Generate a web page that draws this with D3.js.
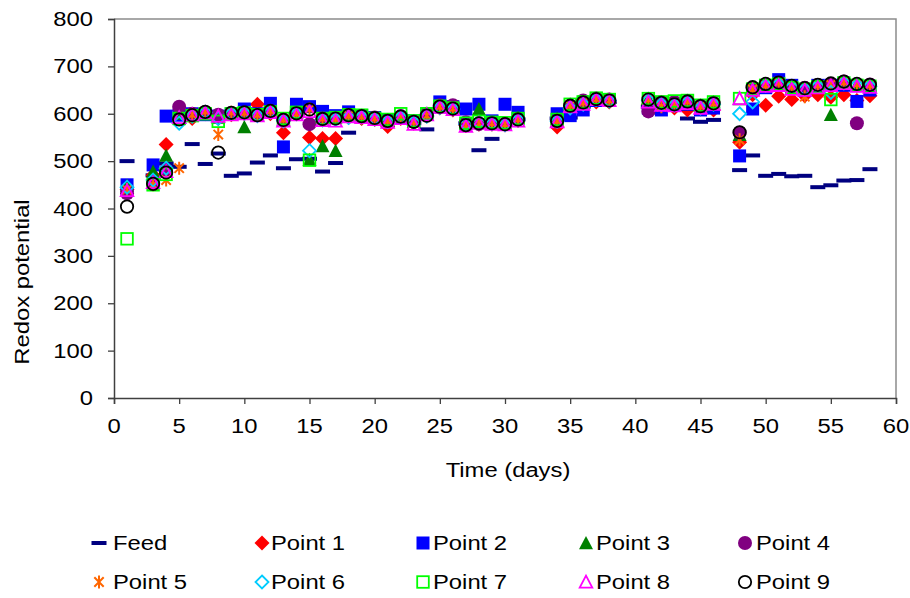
<!DOCTYPE html>
<html><head><meta charset="utf-8">
<script src="https://cdn.jsdelivr.net/npm/d3@7"></script>
<style>html,body{margin:0;padding:0;background:#fff;}svg{display:block;}</style>
</head><body>
<svg id="chart" width="910" height="598"></svg>
<script>
// ---------------- data ----------------
const days = [1,3,4,5,6,7,8,9,10,11,12,13,14,15,16,17,18,19,20,21,22,23,24,25,26,27,28,29,30,31,34,35,36,37,38,41,42,43,44,45,46,48,49,50,51,52,53,54,55,56,57,58];
const feed   = [500,470,495,488,536,494,516,469,474,497,512,485,504,505,478,496,560,585,585,583,585,580,567,605,605,580,523,547,582,588,590,592,615,625,625,615,612,610,590,583,587,481,512,469,473,468,469,445,449,459,460,483];
const point1 = [440,470,535,607,590,600,590,598,600,620,600,560,600,550,548,548,592,590,588,573,590,580,595,612,608,575,578,578,576,586,572,612,620,625,625,620,612,612,608,610,608,540,640,618,637,630,638,640,635,640,628,638];
const point2 = [450,492,595,597,600,598,595,600,610,600,622,530,620,615,605,596,604,596,592,587,590,585,600,625,615,610,620,585,620,603,600,596,608,628,628,612,608,618,620,608,612,511,610,655,672,660,650,660,660,660,626,650];
const point3 = [448,478,512,600,600,605,592,600,572,598,605,588,602,503,532,522,597,595,590,585,594,583,598,617,612,580,610,582,580,592,590,620,625,633,630,632,624,622,628,618,625,556,656,660,665,658,655,660,598,665,662,660];
const point4 = [432,455,482,615,600,603,598,601,602,598,606,588,601,578,590,591,598,596,592,586,595,584,600,618,618,582,578,581,579,588,586,617,628,632,630,605,625,625,627,617,623,560,655,662,665,658,655,660,663,668,580,662];
const point5 = [440,450,460,485,598,605,556,603,602,598,606,588,600,610,590,589,596,594,590,585,593,583,596,615,611,576,580,580,578,588,585,617,624,631,628,630,615,620,626,616,622,545,652,660,665,657,636,660,662,666,662,660];
const point6 = [445,460,485,580,595,603,590,600,601,596,604,585,600,522,587,588,592,593,589,583,592,582,595,613,610,578,582,579,577,587,584,612,620,630,627,628,620,618,624,612,620,600,625,660,662,656,652,658,645,665,660,658];
const point7 = [336,450,472,590,596,600,584,600,602,598,604,590,603,502,590,592,598,597,590,588,600,585,600,616,612,580,584,582,581,590,588,620,625,633,630,632,625,627,628,618,625,632,652,660,663,655,652,657,630,665,660,658];
const point8 = [438,455,478,592,598,602,595,598,600,596,603,585,598,605,586,585,594,592,588,582,590,578,598,614,609,574,580,578,577,585,583,615,620,630,628,625,618,617,622,612,620,632,650,658,660,652,650,655,660,664,658,656];
const point9 = [404,452,476,588,597,604,518,602,603,597,606,587,601,609,589,590,597,595,591,585,594,583,596,615,611,576,580,580,578,588,585,617,624,631,628,630,623,620,626,616,622,561,656,663,666,659,654,661,664,668,663,661];
const seriesNames = ["Feed","Point 1","Point 2","Point 3","Point 4","Point 5","Point 6","Point 7","Point 8","Point 9"];
const xTicks = [0,5,10,15,20,25,30,35,40,45,50,55,60];
const yTicks = [0,100,200,300,400,500,600,700,800];

// ---------------- setup ----------------
const svg = d3.select("#chart");
const M = {left:114, right:896, top:19, bottom:398};
const x = d3.scaleLinear().domain([0,60]).range([M.left, M.right]);
const y = d3.scaleLinear().domain([0,800]).range([M.bottom, M.top]);
const FONT = "'Liberation Sans', Arial, sans-serif";
const SX = 1.19;

const styles = [
  {shape:"dash",     color:"#000080", fill:true},
  {shape:"diamond",  color:"#FF0000", fill:true},
  {shape:"square",   color:"#0000FF", fill:true},
  {shape:"triangle", color:"#008000", fill:true},
  {shape:"circle",   color:"#800080", fill:true},
  {shape:"star",     color:"#FF6600", fill:false},
  {shape:"diamond",  color:"#00CCFF", fill:false},
  {shape:"square",   color:"#00FF00", fill:false},
  {shape:"triangle", color:"#FF00FF", fill:false},
  {shape:"circle",   color:"#000000", fill:false}
];
const allSeries = [feed,point1,point2,point3,point4,point5,point6,point7,point8,point9];

function drawMarker(g, st, cx, cy) {
  const sw = 1.8;
  if (st.shape === "dash") {
    g.append("rect").attr("x", cx-7.5).attr("y", cy-2).attr("width",15).attr("height",4).attr("fill",st.color);
  } else if (st.shape === "diamond") {
    const r = st.fill ? 7.5 : 6.5;
    g.append("path").attr("d",`M${cx},${cy-r}L${cx+r},${cy}L${cx},${cy+r}L${cx-r},${cy}Z`)
      .attr("fill", st.fill?st.color:"none").attr("stroke", st.fill?"none":st.color).attr("stroke-width",sw);
  } else if (st.shape === "square") {
    const h = st.fill ? 6.5 : 5.8;
    g.append("rect").attr("x",cx-h).attr("y",cy-h).attr("width",2*h).attr("height",2*h)
      .attr("fill", st.fill?st.color:"none").attr("stroke", st.fill?"none":st.color).attr("stroke-width",sw);
  } else if (st.shape === "triangle") {
    const h = st.fill ? 7 : 6.3;
    g.append("path").attr("d",`M${cx},${cy-h}L${cx+h},${cy+h*0.9}L${cx-h},${cy+h*0.9}Z`)
      .attr("fill", st.fill?st.color:"none").attr("stroke", st.fill?"none":st.color).attr("stroke-width",sw);
  } else if (st.shape === "circle") {
    const r = st.fill ? 7 : 6.2;
    g.append("circle").attr("cx",cx).attr("cy",cy).attr("r",r)
      .attr("fill", st.fill?st.color:"none").attr("stroke", st.fill?"none":st.color).attr("stroke-width",sw);
  } else if (st.shape === "star") {
    const r = 6.5, d = r*0.72;
    g.append("path").attr("d",`M${cx},${cy-r}L${cx},${cy+r}M${cx-d},${cy-d}L${cx+d},${cy+d}M${cx+d},${cy-d}L${cx-d},${cy+d}`)
      .attr("stroke", st.color).attr("stroke-width",2).attr("fill","none");
  }
}

// frame (top & right)
svg.append("path").attr("d",`M${M.left},${M.top}H${M.right}V${M.bottom}`)
  .attr("fill","none").attr("stroke","#8c8c8c").attr("stroke-width",1.5);

// axes
const xAxis = d3.axisBottom(x).tickValues(xTicks).tickSize(6).tickFormat("");
const yAxis = d3.axisLeft(y).tickValues(yTicks).tickSize(6).tickFormat("");
const gx = svg.append("g").attr("transform",`translate(0,${M.bottom})`).call(xAxis);
const gy = svg.append("g").attr("transform",`translate(${M.left},0)`).call(yAxis);
[gx,gy].forEach(g=>{
  g.select(".domain").attr("stroke","#404040").attr("stroke-width",1.5);
  g.selectAll(".tick line").attr("stroke","#404040").attr("stroke-width",1.3);
});

// tick labels
xTicks.forEach(t=>{
  svg.append("text").attr("transform",`translate(${x(t)},433) scale(${SX},1)`)
    .attr("text-anchor","middle").attr("font-family",FONT).attr("font-size",20).attr("fill","#000").text(t);
});
yTicks.forEach(t=>{
  svg.append("text").attr("transform",`translate(93,${y(t)+7}) scale(${SX},1)`)
    .attr("text-anchor","end").attr("font-family",FONT).attr("font-size",20).attr("fill","#000").text(t);
});

// axis titles
svg.append("text").attr("transform",`translate(508,477) scale(${SX},1)`)
  .attr("text-anchor","middle").attr("font-family",FONT).attr("font-size",20).text("Time (days)");
svg.append("text").attr("transform",`translate(29,282) rotate(-90) scale(${SX},1)`)
  .attr("text-anchor","middle").attr("font-family",FONT).attr("font-size",20).text("Redox potential");

// markers
const plot = svg.append("g");
allSeries.forEach((vals,si)=>{
  const g = plot.append("g");
  vals.forEach((v,i)=> drawMarker(g, styles[si], x(days[i]), y(v)));
});

// legend
const legMarkX = [99,262,423,586,745];
const legTextX = [113,271,433,596,756];
const legRowY = [543,582];
seriesNames.forEach((name,i)=>{
  const row = Math.floor(i/5), col = i%5;
  const g = svg.append("g");
  drawMarker(g, styles[i], legMarkX[col], legRowY[row]);
  svg.append("text").attr("transform",`translate(${legTextX[col]},${legRowY[row]+7}) scale(${SX},1)`)
    .attr("font-family",FONT).attr("font-size",20).attr("fill","#000").text(name);
});
</script>
</body></html>
